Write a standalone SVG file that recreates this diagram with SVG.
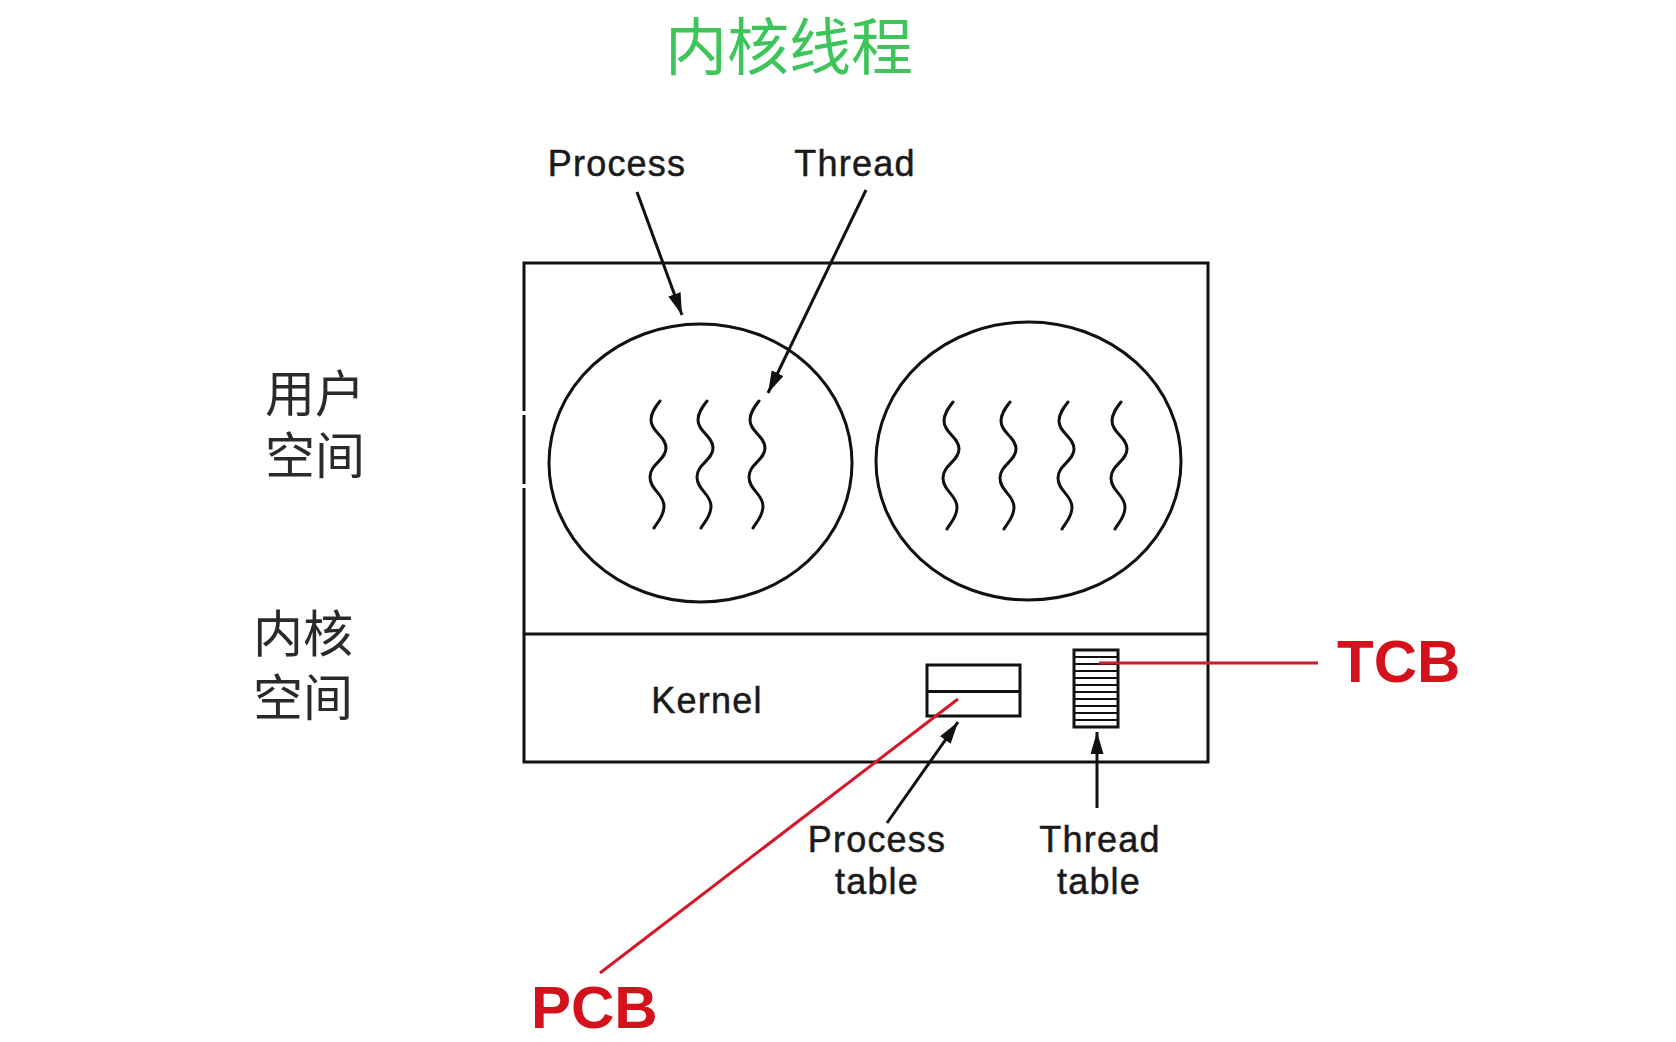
<svg xmlns="http://www.w3.org/2000/svg" width="1676" height="1042" viewBox="0 0 1676 1042">
  <style>
    .en { font-family: "Liberation Sans", Arial, sans-serif; font-size: 36px; fill: #1a1a1a; stroke: #1a1a1a; stroke-width: 0.5; letter-spacing: 1.2px; }
    .cn { font-family: "Noto Sans CJK SC", sans-serif; font-size: 50px; fill: #2a2a2a; }
    .title { font-family: "Noto Sans CJK SC", sans-serif; font-size: 62px; fill: #3ec55a; }
    .red { font-family: "Liberation Sans", Arial, sans-serif; font-size: 60px; font-weight: bold; fill: #d4121b; }
    .box { fill: none; stroke: #111; stroke-width: 3; }
    .thin { fill: none; stroke: #111; stroke-width: 2.2; }
    .wave { fill: none; stroke: #111; stroke-width: 3; stroke-linecap: round; }
    .arrow { fill: none; stroke: #111; stroke-width: 3; marker-end: url(#ah); }
    .redline { fill: none; stroke: #d4182a; stroke-width: 3; }
  </style>
  <defs>
    <marker id="ah" markerUnits="userSpaceOnUse" markerWidth="24" markerHeight="14" refX="22" refY="6.5" orient="auto">
      <path d="M0,0 L22,6.5 L0,13 z" fill="#111"/>
    </marker>
    <path id="wv" d="M2,0 C-2,5 -7,11 -7,19 C-7,31 8,35 8,47 C8,59 -8,63 -8,76 C-8,89 6,93 6,105 C6,116 -1,121 -4,127"/>
  </defs>
  <rect width="1676" height="1042" fill="#ffffff"/>

  <g id="title"><text class="title" x="789" y="70" text-anchor="middle">内核线程</text></g>

  <g id="user-space-label">
    <text class="cn" x="265" y="412">用户</text>
    <text class="cn" x="265" y="474">空间</text>
  </g>
  <g id="kernel-space-label">
    <text class="cn" x="253" y="652">内核</text>
    <text class="cn" x="253" y="716">空间</text>
  </g>

  <g id="system-box">
    <rect class="box" x="524" y="263" width="684" height="499"/>
    <line class="box" x1="524" y1="634" x2="1208" y2="634"/>
    <rect x="521" y="411" width="7" height="4" fill="#fff"/>
    <rect x="521" y="484" width="7" height="4" fill="#fff"/>
  </g>

  <g id="process-1">
    <ellipse class="box" cx="700.5" cy="463" rx="151.5" ry="139"/>
    <use href="#wv" class="wave" x="658" y="401"/>
    <use href="#wv" class="wave" x="705" y="401"/>
    <use href="#wv" class="wave" x="757" y="401"/>
  </g>
  <g id="process-2">
    <ellipse class="box" cx="1028.5" cy="461" rx="152.5" ry="139"/>
    <use href="#wv" class="wave" x="951" y="402"/>
    <use href="#wv" class="wave" x="1008" y="402"/>
    <use href="#wv" class="wave" x="1066" y="402"/>
    <use href="#wv" class="wave" x="1119" y="402"/>
  </g>

  <g id="kernel">
    <text class="en" x="707" y="713" text-anchor="middle">Kernel</text>
  </g>
  <g id="process-table">
    <rect class="box" x="927" y="665" width="93" height="51"/>
    <line class="box" x1="927" y1="691.5" x2="1020" y2="691.5"/>
  </g>
  <g id="thread-table">
    <rect class="box" x="1074" y="650" width="44" height="77"/>
    <path class="thin" d="M1074,657 H1118 M1074,664 H1118 M1074,671 H1118 M1074,678 H1118 M1074,685 H1118 M1074,692 H1118 M1074,699 H1118 M1074,706 H1118 M1074,713 H1118 M1074,720 H1118"/>
  </g>

  <g id="labels">
    <text class="en" x="617" y="176" text-anchor="middle">Process</text>
    <text class="en" x="855" y="176" text-anchor="middle">Thread</text>
    <text class="en" x="877" y="852" text-anchor="middle">Process</text>
    <text class="en" x="877" y="894" text-anchor="middle">table</text>
    <text class="en" x="1100" y="852" text-anchor="middle">Thread</text>
    <text class="en" x="1099" y="894" text-anchor="middle">table</text>
  </g>
  <g id="annotations">
    <text class="red" x="1337" y="682">TCB</text>
    <text class="red" x="531" y="1028">PCB</text>
  </g>

  <g id="connectors">
    <line class="arrow" x1="637" y1="192" x2="682" y2="315"/>
    <line class="arrow" x1="866" y1="190" x2="768" y2="393"/>
    <line class="arrow" x1="887" y1="823" x2="958" y2="722"/>
    <line class="arrow" x1="1097" y1="808" x2="1097" y2="732"/>
    <line class="redline" x1="1099" y1="663" x2="1318" y2="663"/>
    <line class="redline" x1="958" y1="699" x2="600" y2="973"/>
  </g>
</svg>
